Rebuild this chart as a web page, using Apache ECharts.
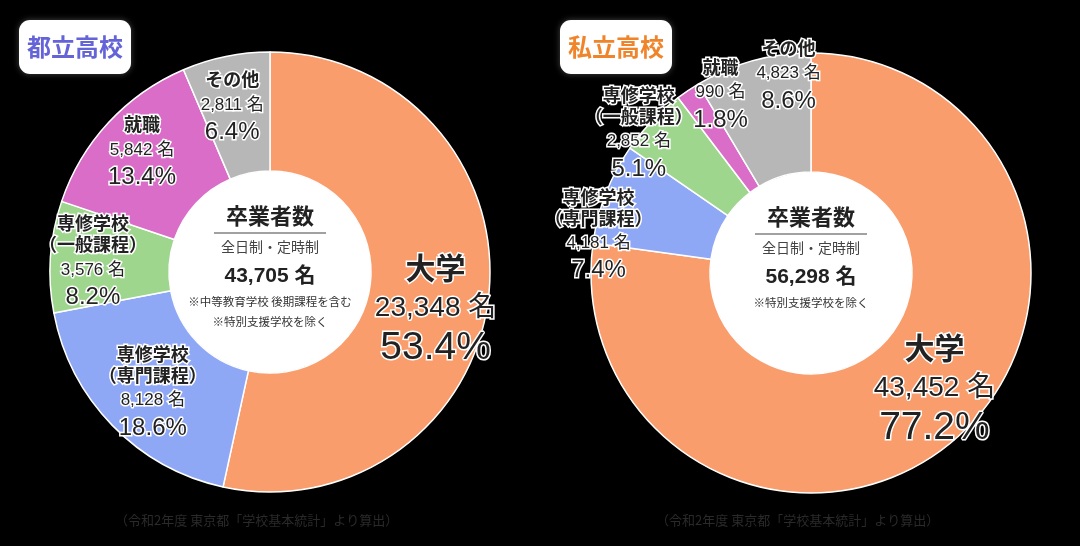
<!DOCTYPE html>
<html>
<head>
<meta charset="utf-8">
<script src="https://cdn.jsdelivr.net/npm/echarts@6/dist/echarts.min.js"></script>
<style>
html,body{margin:0;padding:0;background:#000;}
#c{width:1080px;height:546px;}
</style>
</head>
<body>
<div id="c"></div>
<script>
// ---- data ----
var categories = ['大学', '専修学校\n（専門課程）', '専修学校\n（一般課程）', '就職', 'その他'];
var publicValues = [23348, 8128, 3576, 5842, 2811];
var publicPct = ['53.4%', '18.6%', '8.2%', '13.4%', '6.4%'];
var privateValues = [43452, 4181, 2852, 990, 4823];
var privatePct = ['77.2%', '7.4%', '5.1%', '1.8%', '8.6%'];
var publicTitle = '都立高校';
var privateTitle = '私立高校';
var publicTotal = '43,705 名';
var privateTotal = '56,298 名';
var publicNotes = ['※中等教育学校 後期課程を含む', '※特別支援学校を除く'];
var privateNotes = ['※特別支援学校を除く'];
var sourceNote = '（令和2年度 東京都「学校基本統計」より算出）';

// ---- styling ----
var colors = ['#F99D6C', '#8FA8F6', '#9FD68E', '#D96DC8', '#B7B7B7'];
var FONT = '"Noto Sans CJK JP", "Noto Sans", sans-serif';
var NUMFONT = '"Liberation Sans", "Noto Sans CJK JP", sans-serif';
var publicNudge = [[3, 18], [0, 6], [-14, 1], [-8, -9], [-5, -5]];
var privateNudge = [[16, -9], [-60, 21], [-54, -27], [1, -43], [21, -40]];

function fmt(n) { return n.toString().replace(/\B(?=(\d{3})+(?!\d))/g, ','); }

function labelText(i, values, pct) {
  var big = i === 0;
  var nameLines = categories[i].split('\n').map(function (s) {
    return '{' + (big ? 'N' : 'n') + '|' + s + '}';
  }).join('\n');
  return nameLines + '\n{' + (big ? 'C' : 'c') + '|' + fmt(values[i]) + ' 名}\n{' + (big ? 'P' : 'p') + '|' + pct[i] + '}';
}

var richLabel = {
  n: {fontSize: 18, fontWeight: 'bold', lineHeight: 21, fontFamily: FONT},
  c: {fontSize: 17, lineHeight: 30, fontFamily: NUMFONT},
  p: {fontSize: 24, lineHeight: 25, fontFamily: NUMFONT},
  N: {fontSize: 30, fontWeight: 'bold', lineHeight: 42, fontFamily: FONT},
  C: {fontSize: 28, lineHeight: 40, fontFamily: NUMFONT},
  P: {fontSize: 39, lineHeight: 40, fontFamily: NUMFONT}
};

function donut(center, values, pct, nudge) {
  return {
    type: 'pie',
    center: center,
    radius: [101, 220],
    startAngle: 90,
    clockwise: true,
    silent: true,
    itemStyle: {borderColor: '#fff', borderWidth: 1.5},
    label: {
      show: true,
      position: 'inside',
      fontFamily: FONT,
      color: '#222',
      textBorderColor: '#fff',
      textBorderWidth: 3,
      align: 'center',
      formatter: function (p) { return labelText(p.dataIndex, values, pct); },
      rich: richLabel
    },
    labelLine: {show: false},
    labelLayout: function (p) {
      var o = nudge[p.dataIndex];
      return {dx: o[0], dy: o[1]};
    },
    data: values.map(function (v, i) {
      return {value: v, name: categories[i], itemStyle: {color: colors[i]}};
    })
  };
}

function centerDisk(center, total, notes, dy) {
  var txt = '{t|卒業者数}\n{hr|}\n{s|全日制・定時制}\n{v|' + total + '}\n' +
    notes.map(function (s) { return '{m|' + s + '}'; }).join('\n');
  return {
    type: 'pie',
    center: center,
    radius: [0, 101],
    silent: true,
    itemStyle: {color: '#fff'},
    label: {
      show: true,
      position: 'center',
      offset: [0, dy],
      fontFamily: FONT,
      color: '#222',
      formatter: txt,
      rich: {
        t: {fontSize: 22, fontWeight: 'bold', lineHeight: 32, color: '#222', fontFamily: FONT},
        hr: {width: 112, height: 1, lineHeight: 2, backgroundColor: '#444'},
        s: {fontSize: 14, lineHeight: 26, color: '#444', fontFamily: FONT},
        v: {fontSize: 21, fontWeight: 'bold', lineHeight: 32, color: '#222', fontFamily: NUMFONT},
        m: {fontSize: 11.5, lineHeight: 20, color: '#333', fontFamily: FONT}
      }
    },
    labelLine: {show: false},
    data: [{value: 1, name: 'disk'}]
  };
}

function titleBox(text, left, color) {
  return {
    text: text,
    left: left,
    top: 20,
    backgroundColor: '#fff',
    borderRadius: 11,
    padding: [12, 8, 12, 8],
    shadowColor: 'rgba(200,200,200,0.35)',
    shadowBlur: 6,
    textStyle: {fontFamily: FONT, fontSize: 24, fontWeight: 'bold', color: color, lineHeight: 30}
  };
}

var chart = echarts.init(document.getElementById('c'));
chart.setOption({
  backgroundColor: '#000',
  animation: false,
  title: [titleBox(publicTitle, 19, '#6464D8'), titleBox(privateTitle, 560, '#F0842A')],
  graphic: [
    {type: 'text', left: 270 - 155, top: 514, style: {text: sourceNote, fill: '#2a2a2a', font: '13px ' + FONT}},
    {type: 'text', left: 811 - 155, top: 514, style: {text: sourceNote, fill: '#2a2a2a', font: '13px ' + FONT}}
  ],
  series: [
    donut([270, 272], publicValues, publicPct, publicNudge),
    centerDisk([270, 272], publicTotal, publicNotes, -6),
    donut([811, 273], privateValues, privatePct, privateNudge),
    centerDisk([811, 273], privateTotal, privateNotes, -16)
  ]
});
</script>
</body>
</html>
